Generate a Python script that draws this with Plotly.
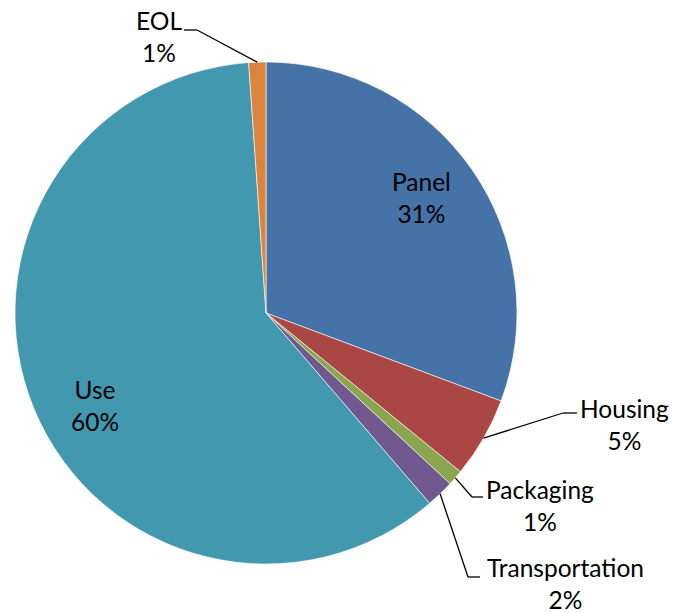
import math
import plotly.graph_objects as go

# Data
categories = ["Panel", "Housing", "Packaging", "Transportation", "Use", "EOL"]
values = [30.7, 5.2, 1.0, 1.8, 60.2, 1.1]
pct_labels = ["31%", "5%", "1%", "2%", "60%", "1%"]
colors = ["#4572A7", "#AA4643", "#89A54E", "#71588F", "#4198AF", "#DB843D"]

W, H = 682, 613
L, R, T, B = 15, 165, 62, 49
PW, PH = W - L - R, H - T - B
CX, CY = L + PW / 2, T + PH / 2
RAD = min(PW, PH) / 2
FONT = dict(family="Lato, Carlito, Calibri, sans-serif", size=24.5, color="#000000")


def px(x, y):
    return (x - L) / PW, 1 - (y - T) / PH


def edge_point(i):
    total = sum(values)
    start = sum(values[:i])
    mid = (start + values[i] / 2) / total * 2 * math.pi
    return CX + RAD * math.sin(mid), CY - RAD * math.cos(mid)


fig = go.Figure(go.Pie(
    labels=categories, values=values, sort=False, direction="clockwise",
    rotation=0, marker=dict(colors=colors, line=dict(color="white", width=0.6)),
    textinfo="none", hoverinfo="skip", showlegend=False,
))

# label layout: (text center x, y), elbow, line end
inside = {"Panel": (421, 197), "Use": (95, 405)}
outside = {
    "EOL": ((159, 36), (197, 30), (184, 30)),
    "Housing": ((624, 424), (563, 413), (577, 413)),
    "Packaging": ((540, 505), (472, 497), (483, 497)),
    "Transportation": ((565, 583), (468, 577), (480, 577)),
}

annotations = []
shapes = []
for i, c in enumerate(categories):
    text = f"{c}<br>{pct_labels[i]}"
    if c in inside:
        x, y = px(*inside[c])
    else:
        (tx, ty), elbow, lend = outside[c]
        x, y = px(tx, ty)
        ex, ey = edge_point(i)
        pts = [(ex, ey), elbow, lend]
        for (ax, ay), (bx, by) in zip(pts[:-1], pts[1:]):
            x0, y0 = px(ax, ay)
            x1, y1 = px(bx, by)
            shapes.append(dict(type="line", xref="paper", yref="paper",
                               x0=x0, y0=y0, x1=x1, y1=y1,
                               line=dict(color="black", width=1.3)))
    annotations.append(dict(text=text, x=x, y=y, xref="paper", yref="paper",
                            showarrow=False, font=FONT, align="center",
                            xanchor="center", yanchor="middle", borderpad=0))

fig.update_layout(
    width=W, height=H, margin=dict(l=L, r=R, t=T, b=B),
    paper_bgcolor="white", plot_bgcolor="white",
    annotations=annotations, shapes=shapes,
)
fig.write_html("out.html", config={"displayModeBar": False},
               post_script="document.body.style.margin='0';document.body.style.overflow='hidden';")
